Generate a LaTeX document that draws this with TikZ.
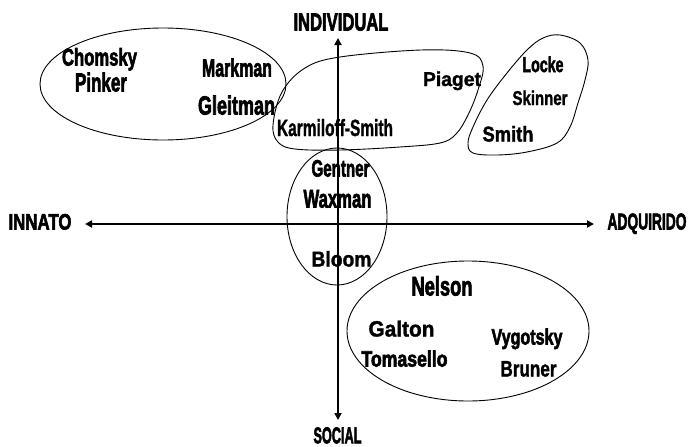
\documentclass[tikz,border=0pt]{standalone}
\usepackage{fontspec}
\setmainfont{Liberation Sans}
\newfontfamily\heavyfont{Liberation Sans}[FakeBold=3]
\newfontfamily\semiheavyfont{Liberation Sans}[FakeBold=1.5]
\usetikzlibrary{arrows.meta}
\newcommand{\lbl}[3]{\resizebox{#1pt}{#2pt}{\semiheavyfont\bfseries #3}}
\newcommand{\hlbl}[3]{\resizebox{#1pt}{#2pt}{\heavyfont\bfseries #3}}
\tikzset{
  word/.style={inner sep=0pt, anchor=base},
  axisline/.style={line width=1.8pt, {Triangle[length=7pt,width=7pt]}-{Triangle[length=7pt,width=7pt]}},
  group/.style={line width=0.9pt}
}
\begin{document}
\begin{tikzpicture}[x=1pt,y=-1pt]
\useasboundingbox (0,0) rectangle (688,447);
% axis labels
\node[word] (indiv) at (341,30.5) {\hlbl{95}{17}{INDIVIDUAL}};
\node[word] (innato) at (40,229.5) {\hlbl{63}{15.5}{INNATO}};
\node[word] (adq) at (647,229.5) {\hlbl{79}{16}{ADQUIRIDO}};
\node[word] (social) at (337.5,443.3) {\hlbl{48}{16}{SOCIAL}};
% axes
\coordinate (axT) at (338,38);
\coordinate (axB) at (338,420);
\coordinate (axL) at (85,224);
\coordinate (axR) at (594,224);
\draw[axisline] (axL) -- (axR);
\draw[axisline] (axT) -- (axB);
% left group
\draw[group] (163,84) ellipse [x radius=123, y radius=56];
\node[word] (chomsky) at (99.5,65.5) {\hlbl{75}{17.5}{Chomsky}};
\node[word] (pinker) at (101,91.5) {\hlbl{52}{19}{Pinker}};
\node[word] (markman) at (237,76.5) {\hlbl{70}{18}{Markman}};
\node[word] (gleitman) at (236.5,114.5) {\hlbl{77}{19}{Gleitman}};
% middle top blob
\draw[group] plot[smooth cycle, tension=0.6] coordinates {
  (273,125) (282,92) (305,68) (340,57) (421,50) (470,53) (483,66)
  (478,90) (468,115) (456,134) (440,143) (400,147) (340,150) (295,149) (278,142)};
\node[word] (karm) at (335,136) {\lbl{116}{17}{Karmiloff-Smith}};
\node[word] (piaget) at (452,86) {\lbl{58}{14.5}{Piaget}};
% right blob
\draw[group] plot[smooth cycle, tension=0.6] coordinates {
  (560,35) (580,43) (588,60) (585,80) (578,103) (570,127) (557,143)
  (527,152) (497,155) (473,153) (468,143) (473,127) (487,100) (507,73) (527,50) (543,38)};
\node[word] (locke) at (543,72) {\hlbl{41}{15.5}{Locke}};
\node[word] (skinner) at (540,105) {\lbl{55}{14.5}{Skinner}};
\node[word] (smith) at (508,141.5) {\lbl{51}{15.5}{Smith}};
% centre ellipse
\draw[group] (337,216.5) ellipse [x radius=50, y radius=68.5];
\node[word] (gentner) at (340.5,176.5) {\hlbl{58}{16.5}{Gentner}};
\node[word] (waxman) at (337.5,207.5) {\hlbl{68}{17.5}{Waxman}};
\node[word] (bloom) at (341.5,266.5) {\lbl{60}{15.5}{Bloom}};
% bottom ellipse
\draw[group] (468,331) ellipse [x radius=121, y radius=70];
\node[word] (nelson) at (442,295.5) {\hlbl{61}{19.5}{Nelson}};
\node[word] (galton) at (401.5,336.5) {\lbl{66}{16}{Galton}};
\node[word] (tomasello) at (404.5,366.5) {\hlbl{86}{16}{Tomasello}};
\node[word] (vygotsky) at (527,344.5) {\hlbl{71}{16}{Vygotsky}};
\node[word] (bruner) at (528.5,376.5) {\lbl{56}{15.5}{Bruner}};
\end{tikzpicture}
\end{document}
